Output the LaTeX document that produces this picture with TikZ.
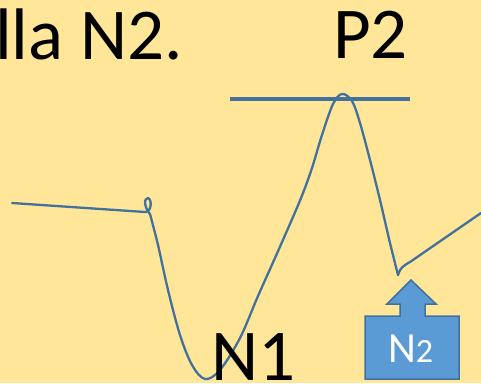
\documentclass[tikz,border=0pt]{standalone}
\usepackage{fontspec}
\setmainfont{Carlito}
\definecolor{bg}{HTML}{FFE699}
\definecolor{ln}{HTML}{41719C}
\definecolor{bx}{HTML}{5B9BD5}
\begin{document}
\begin{tikzpicture}[x=1pt,y=-1pt,
  big/.style={inner sep=0pt,font=\fontsize{73}{80}\selectfont,text=black},
  curve/.style={draw=ln,line width=2.3pt,line cap=round,line join=round}]
\fill[bg] (0,0) rectangle (481,383);
\useasboundingbox (0,0) rectangle (481,383);
\clip (0,0) rectangle (481,383);
% texts
\node[big,anchor=base west] (t1) at (-5,59) {lla N2.};
\node[big,anchor=base west] (t2) at (333,58) {P2};
% level line
\coordinate (la) at (230,99);
\coordinate (lb) at (410,99);
\draw[ln,line width=4pt] (la) -- (lb);
% curve
\draw[curve] (12,203) -- (145,212)
  .. controls (152,212) and (152,199) .. (148,198)
  .. controls (143,198) and (145,209) .. (150,214);
\draw[curve] plot[smooth,tension=0.55] coordinates {(150,214) (158,245) (168,290) (180,335) (192,365) (205,379) (220,370) (240,338) (258,296) (275,258) (293,217) (303,193) (312,168) (322,135) (333,104) (342,94) (352,101) (360,123) (370,160) (380,200) (390,243) (398,275)};
\draw[curve] (398,275) .. controls (400,268) and (403,266) .. (410,262) -- (481,213);
\node[big,anchor=base west] (t3) at (211,380) {N1};
% callout
\draw[ln,fill=bx,line width=1.5pt,line join=miter]
  (365,316) -- (400,316) -- (400,304) -- (387,304) -- (411,280) -- (436,304) -- (425,304) -- (425,316) -- (459,316) -- (459,379) -- (365,379) -- cycle;
\node[inner sep=0pt,anchor=base west,text=white] (t4) at (388,362) {\fontsize{43}{48}\selectfont N\fontsize{34}{40}\selectfont 2};
\end{tikzpicture}
\end{document}
